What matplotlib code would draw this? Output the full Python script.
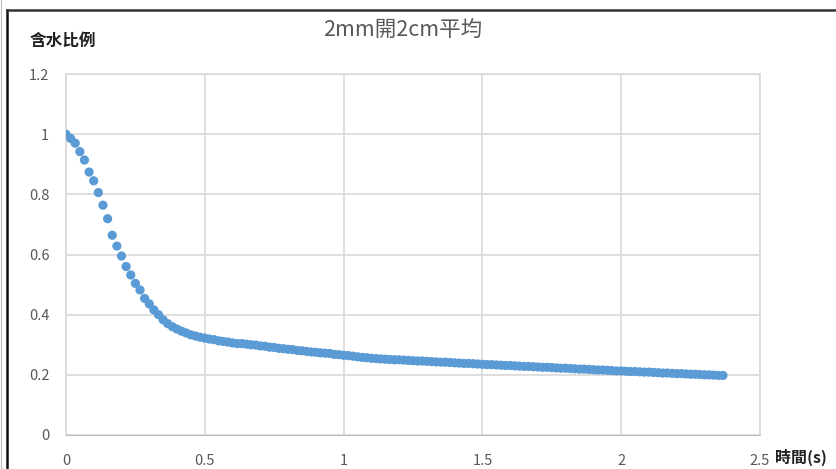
import matplotlib.pyplot as plt
from matplotlib.lines import Line2D

# water content ratio sampled every frame (60 fps)
fps = 60
water_ratio = [
    1.000, 0.986, 0.970, 0.942, 0.914, 0.874, 0.845, 0.806, 0.764, 0.719,
    0.664, 0.628, 0.595, 0.560, 0.532, 0.504, 0.482, 0.454, 0.436, 0.416,
    0.400, 0.383, 0.370, 0.360, 0.352, 0.345, 0.339, 0.333, 0.329, 0.325,
    0.322, 0.319, 0.317, 0.313, 0.311, 0.309, 0.306, 0.304, 0.304, 0.302,
    0.300, 0.299, 0.296, 0.295, 0.292, 0.291, 0.288, 0.287, 0.285, 0.284,
    0.281, 0.280, 0.278, 0.276, 0.275, 0.273, 0.272, 0.271, 0.268, 0.267,
    0.265, 0.264, 0.262, 0.260, 0.258, 0.257, 0.255, 0.254, 0.253, 0.252,
    0.251, 0.250, 0.250, 0.249, 0.248, 0.247, 0.246, 0.246, 0.245, 0.244,
    0.243, 0.242, 0.242, 0.241, 0.240, 0.239, 0.238, 0.238, 0.237, 0.236,
    0.235, 0.234, 0.234, 0.233, 0.232, 0.231, 0.231, 0.230, 0.229, 0.228,
    0.228, 0.227, 0.226, 0.225, 0.225, 0.224, 0.223, 0.222, 0.222, 0.221,
    0.220, 0.219, 0.219, 0.218, 0.217, 0.216, 0.216, 0.215, 0.214, 0.213,
    0.213, 0.212, 0.211, 0.211, 0.210, 0.209, 0.209, 0.208, 0.207, 0.206,
    0.206, 0.205, 0.204, 0.204, 0.203, 0.202, 0.202, 0.201, 0.200, 0.200,
    0.199, 0.198, 0.198,
]
frames = list(range(len(water_ratio)))
time_s = [f / fps for f in frames]

x_ticks = [0, 0.5, 1, 1.5, 2, 2.5]
x_tick_labels = ["0", "0.5", "1", "1.5", "2", "2.5"]
y_ticks = [0, 0.2, 0.4, 0.6, 0.8, 1.0, 1.2]
y_tick_labels = ["0", "0.2", "0.4", "0.6", "0.8", "1", "1.2"]

plt.rcParams['font.family'] = ['Noto Sans CJK TC', 'DejaVu Sans']

fig = plt.figure(figsize=(8.36, 4.69), dpi=100)
ax = fig.add_axes([0.0789, 0.0725, 0.8302, 0.7697])

ax.scatter(time_s, water_ratio, s=44, color='#5b9bd5', edgecolors='none', zorder=3)

ax.set_xlim(0, 2.5)
ax.set_ylim(0, 1.2)
ax.set_xticks(x_ticks)
ax.set_xticklabels(x_tick_labels)
ax.set_yticks(y_ticks)
ax.set_yticklabels(y_tick_labels)
ax.tick_params(length=0, labelsize=10.5, labelcolor='#595959')
ax.tick_params(axis='x', pad=14)
ax.tick_params(axis='y', pad=12)
ax.grid(True, color='#d9d9d9', linewidth=1.2)
ax.set_axisbelow(True)
for side in ['top', 'right', 'left']:
    ax.spines[side].set_color('#d9d9d9')
    ax.spines[side].set_linewidth(1.2)
ax.spines['bottom'].set_color('#bfbfbf')

fig.text(0.482, 0.935, "2mm開2cm平均", ha='center', va='center',
         fontsize=15.5, color='#595959')
fig.text(0.036, 0.913, "含水比例", ha='left', va='center',
         fontsize=12, fontweight='bold', color='#222222')
fig.text(0.927, 0.025, "時間(s)", ha='left', va='center',
         fontsize=11.5, fontweight='bold', color='#222222')

# outer frame edges
fig.add_artist(Line2D([0.0084, 0.0084], [0.0, 0.978], color='#111111', lw=1.8))
fig.add_artist(Line2D([0.0084, 1.0], [0.978, 0.978], color='#333333', lw=1.8))
fig.add_artist(Line2D([0.0008, 0.0008], [0.0, 1.0], color='#bbbbbb', lw=0.8))

fig.savefig("out.png", dpi=100)
